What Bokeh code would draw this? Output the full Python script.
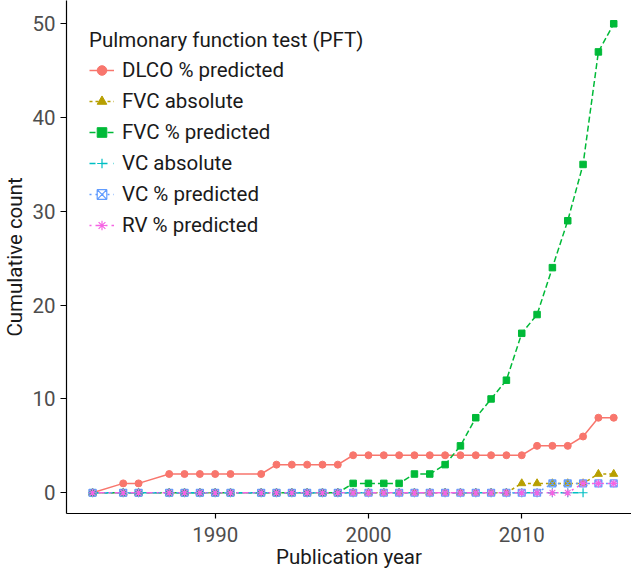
from bokeh.plotting import figure
from bokeh.models import Legend, LegendItem, Range1d, FixedTicker
from bokeh.embed import file_html
from bokeh.resources import INLINE

# ---- data ----
years = [1982, 1984, 1985, 1987, 1988, 1989, 1990, 1991, 1993, 1994, 1995,
         1996, 1997, 1998, 1999, 2000, 2001, 2002, 2003, 2004, 2005, 2006,
         2007, 2008, 2009, 2010, 2011, 2012, 2013, 2014, 2015, 2016]
dlco_pct = [0, 1, 1, 2, 2, 2, 2, 2, 2, 3, 3, 3, 3, 3, 4, 4, 4, 4, 4, 4, 4, 4,
            4, 4, 4, 4, 5, 5, 5, 6, 8, 8]
fvc_abs = [0, 0, 0, 0, 0, 0, 0, 0, 0, 0, 0, 0, 0, 0, 0, 0, 0, 0, 0, 0, 0, 0,
           0, 0, 0, 1, 1, 1, 1, 1, 2, 2]
fvc_pct = [0, 0, 0, 0, 0, 0, 0, 0, 0, 0, 0, 0, 0, 0, 1, 1, 1, 1, 2, 2, 3, 5,
           8, 10, 12, 17, 19, 24, 29, 35, 47, 50]
vc_abs_years = [1982, 1984, 1985, 1987, 1988, 1989, 1990, 1991, 1993, 1994,
                1995, 1996, 1997, 1998, 1999, 2000, 2001, 2002, 2003, 2004,
                2005, 2006, 2007, 2008, 2009, 2010, 2011, 2012, 2013, 2014]
vc_abs = [0, 0, 0, 0, 0, 0, 0, 0, 0, 0, 0, 0, 0, 0, 0, 0, 0, 0, 0, 0, 0, 0,
          0, 0, 0, 0, 0, 0, 0, 0]
vc_pct = [0, 0, 0, 0, 0, 0, 0, 0, 0, 0, 0, 0, 0, 0, 0, 0, 0, 0, 0, 0, 0, 0,
          0, 0, 0, 0, 0, 1, 1, 1, 1, 1]
rv_pct = [0, 0, 0, 0, 0, 0, 0, 0, 0, 0, 0, 0, 0, 0, 0, 0, 0, 0, 0, 0, 0, 0,
          0, 0, 0, 0, 0, 0, 0, 1, 1, 1]

series_labels = ["DLCO % predicted", "FVC absolute", "FVC % predicted",
                 "VC absolute", "VC % predicted", "RV % predicted"]
x_ticks = [1990, 2000, 2010]
y_ticks = [0, 10, 20, 30, 40, 50]

FONT = "Roboto"
FS = "20.5px"

p = figure(frame_width=565, frame_height=513, output_backend="svg",
           toolbar_location=None,
           x_range=Range1d(1980.3, 2017.16), y_range=Range1d(-2.21, 52.48),
           min_border_left=0, min_border_right=0, min_border_top=0,
           min_border_bottom=0)
p.outline_line_color = None
p.grid.visible = False
p.background_fill_color = "white"

series = [
    (years, dlco_pct, "#F8766D", "solid", "circle", 7),
    (years, fvc_abs, "#B79F00", "3 3", "triangle", 8),
    (years, fvc_pct, "#00BA38", "6 3", "square", 6.5),
    (vc_abs_years, vc_abs, "#00BFC4", "6 6", "cross", 9),
    (years, vc_pct, "#619CFF", "2 4", "square_x", 7),
    (years, rv_pct, "#F564E3", "2 4 6 4", "asterisk", 8),
]

lines = []
for xs, ys, col, dash, mk, sz in series:
    lines.append(p.line(xs, ys, line_color=col, line_width=1.5, line_dash=dash))
marks = []
for xs, ys, col, dash, mk, sz in series:
    if mk == "square_x":
        r = p.scatter(xs, ys, marker=mk, size=sz, line_color=col,
                      fill_color=None, line_width=1.2)
    elif mk in ("cross", "asterisk"):
        r = p.scatter(xs, ys, marker=mk, size=sz, line_color=col, line_width=1.2)
    else:
        r = p.scatter(xs, ys, marker=mk, size=sz, line_color=col, fill_color=col)
    marks.append(r)

items = [LegendItem(label=lab, renderers=[l, m])
         for lab, l, m in zip(series_labels, lines, marks)]
legend = Legend(items=items, location=(23, 276),
                title="Pulmonary function test (PFT)",
                margin=0, padding=0, spacing=7, label_height=24, glyph_height=24,
                glyph_width=25, label_standoff=8, title_standoff=6,
                border_line_color=None, background_fill_alpha=0)
legend.title_text_font = FONT
legend.title_text_font_size = FS
legend.title_text_font_style = "normal"
legend.title_text_color = "#1a1a1a"
legend.label_text_font = FONT
legend.label_text_font_size = FS
legend.label_text_color = "#1a1a1a"
p.add_layout(legend)

for ax in (p.xaxis, p.yaxis):
    ax.axis_line_color = "black"
    ax.axis_line_width = 1.2
    ax.major_tick_line_color = "black"
    ax.major_tick_line_width = 1.2
    ax.major_tick_in = 0
    ax.minor_tick_line_color = None
    ax.major_label_text_font = FONT
    ax.major_label_text_font_size = FS
    ax.major_label_text_color = "#4D4D4D"
    ax.axis_label_text_font = FONT
    ax.axis_label_text_font_size = FS
    ax.axis_label_text_font_style = "normal"
    ax.axis_label_text_color = "#1a1a1a"

p.xaxis.ticker = FixedTicker(ticks=x_ticks)
p.yaxis.ticker = FixedTicker(ticks=y_ticks)
p.xaxis.major_tick_out = 5
p.yaxis.major_tick_out = 6
p.xaxis.major_label_standoff = 8
p.yaxis.major_label_standoff = 5
p.xaxis.axis_label = "Publication year"
p.yaxis.axis_label = "Cumulative count"
p.xaxis.axis_label_standoff = 0
p.yaxis.axis_label_standoff = 2

open("out.html", "w").write(file_html(p, INLINE))
